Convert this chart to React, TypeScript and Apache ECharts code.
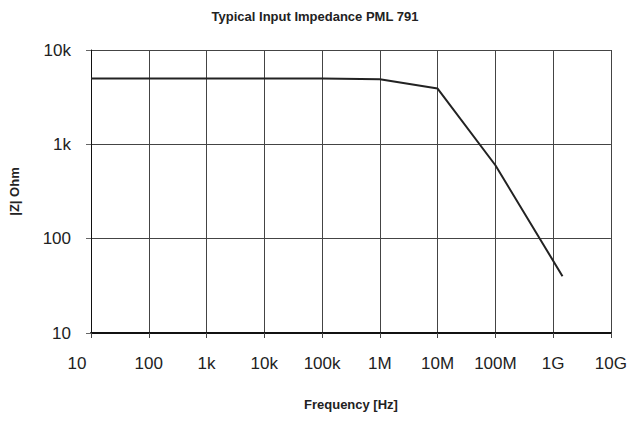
import React, { useEffect, useRef } from "react";
import * as echarts from "echarts";

const frequencies = [10, 1e3, 1e5, 1e6, 1e7, 1e8, 1.45e9];
const impedance = [5000, 5000, 5000, 4900, 3900, 600, 40];
const xTickLabels: Record<string, string> = {
  "10": "10", "100": "100", "1000": "1k", "10000": "10k", "100000": "100k",
  "1000000": "1M", "10000000": "10M", "100000000": "100M", "1000000000": "1G", "10000000000": "10G",
};
const yTickLabels: Record<string, string> = { "10": "10", "100": "100", "1000": "1k", "10000": "10k" };

const fmt = (map: Record<string, string>) => (v: number) => {
  const k = String(Math.round(v));
  return map[k] ?? "";
};

export default function App() {
  const ref = useRef<HTMLDivElement>(null);
  useEffect(() => {
    if (!ref.current) return;
    const chart = echarts.init(ref.current, undefined, { renderer: "svg" });
    const font = "'Liberation Sans', Arial, sans-serif";
    chart.setOption({
      animation: false,
      textStyle: { fontFamily: font },
      title: {
        text: "Typical Input Impedance PML 791",
        left: "center",
        top: 5,
        textStyle: { fontSize: 13, fontWeight: "bold", color: "#222", fontFamily: font },
      },
      grid: { left: 91, right: 18, top: 50, bottom: 88, containLabel: false },
      xAxis: {
        type: "log",
        logBase: 10,
        min: 10,
        max: 1e10,
        name: "Frequency [Hz]",
        nameLocation: "middle",
        nameGap: 65,
        nameTextStyle: { fontSize: 13, fontWeight: "bold", color: "#222", fontFamily: font },
        axisLine: { show: true, lineStyle: { color: "#111", width: 2 } },
        axisTick: { show: true, length: 5, lineStyle: { color: "#444" } },
        axisLabel: {
          formatter: (v: number) => {
            const s = fmt(xTickLabels)(v);
            return Math.round(v) === 10 ? "{first|" + s + "}" : s;
          },
          rich: { first: { fontSize: 17, color: "#222", padding: [0, 28, 0, 0], fontFamily: font } },
          fontSize: 17,
          color: "#222",
          margin: 22,
          fontFamily: font,
        },
        splitLine: { show: true, lineStyle: { color: "#444", width: 1 } },
        minorTick: { show: false },
      },
      yAxis: {
        type: "log",
        logBase: 10,
        min: 10,
        max: 1e4,
        name: "|Z| Ohm",
        nameLocation: "middle",
        nameGap: 70,
        nameRotate: 90,
        nameTextStyle: { fontSize: 13, fontWeight: "bold", color: "#222", fontFamily: font },
        axisLine: { show: true, lineStyle: { color: "#111", width: 1 } },
        axisTick: { show: true, length: 5, lineStyle: { color: "#666" } },
        axisLabel: { formatter: fmt(yTickLabels), fontSize: 17, color: "#222", margin: 20, fontFamily: font },
        splitLine: { show: true, lineStyle: { color: "#444", width: 1 } },
      },
      series: [
        {
          type: "line",
          data: frequencies.map((f, i) => [f, impedance[i]]),
          showSymbol: false,
          symbol: "none",
          lineStyle: { color: "#222", width: 2 },
        },
      ],
    });
    return () => chart.dispose();
  }, []);
  return <div ref={ref} style={{ position: "absolute", left: 0, top: 0, width: 630, height: 421 }} />;
}
